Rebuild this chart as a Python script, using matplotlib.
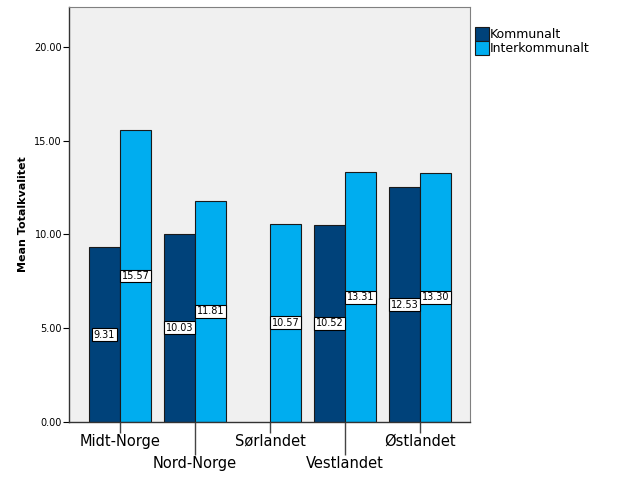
import matplotlib.pyplot as plt
import numpy as np

regions = ["Midt-Norge", "Nord-Norge", "Sørlandet", "Vestlandet", "Østlandet"]
kommunalt = [9.31, 10.03, np.nan, 10.52, 12.53]
interkommunalt = [15.57, 11.81, 10.57, 13.31, 13.30]
series_names = ["Kommunalt", "Interkommunalt"]
colors = ["#00427a", "#00adef"]

fig = plt.figure(figsize=(6.29, 5.04), dpi=100)
ax = fig.add_axes([69 / 629, 1 - 422 / 504, (470 - 69) / 629, (422 - 7) / 504])
ax.set_facecolor("#f0f0f0")

x = np.arange(len(regions))
w = 0.413
series = [kommunalt, interkommunalt]
for i, vals in enumerate(series):
    pos = x - w / 2 + i * w
    ax.bar(pos, vals, width=w, color=colors[i], edgecolor="#1a1a1a",
           linewidth=0.8, label=series_names[i], zorder=2)
    for p, v in zip(pos, vals):
        if np.isnan(v):
            continue
        ax.text(p, v / 2, f"{v:.2f}", ha="center", va="center", fontsize=7,
                bbox=dict(boxstyle="square,pad=0.15", fc="white", ec="black", lw=0.8),
                zorder=3)

ax.set_xlim(-0.68, 4.667)
ax.set_ylim(0, 22.13)
ax.set_yticks([0, 5, 10, 15, 20])
ax.set_yticklabels([f"{t:.2f}" for t in [0, 5, 10, 15, 20]], fontsize=7)
ax.tick_params(axis="y", length=4, width=0.8, pad=1)

# staggered category labels (tick lengths in points)
ax.set_xticks(x[::2])
ax.set_xticklabels(regions[::2], fontsize=10.5)
ax.set_xticks(x[1::2], minor=True)
ax.set_xticklabels(regions[1::2], minor=True, fontsize=10.5)
ax.tick_params(axis="x", which="major", length=8, width=1, color="#444444", pad=0.5)
ax.tick_params(axis="x", which="minor", length=24, width=1, color="#444444", pad=0.5)

ax.set_ylabel("Mean Totalkvalitet", fontsize=8, fontweight="bold")
ax.yaxis.set_label_coords(-41 / 401, 0.5)

for s in ["top", "right"]:
    ax.spines[s].set_color("#808080")
for s in ["left", "bottom"]:
    ax.spines[s].set_color("#333333")
    ax.spines[s].set_linewidth(1)

ax.legend(loc="upper left", bbox_to_anchor=(1.0, 0.965), frameon=False,
          fontsize=9, handlelength=1.1, handleheight=1.4, handletextpad=0.1,
          labelspacing=0.0, borderaxespad=0.3, borderpad=0.1)

fig.savefig("out.png", dpi=100)
